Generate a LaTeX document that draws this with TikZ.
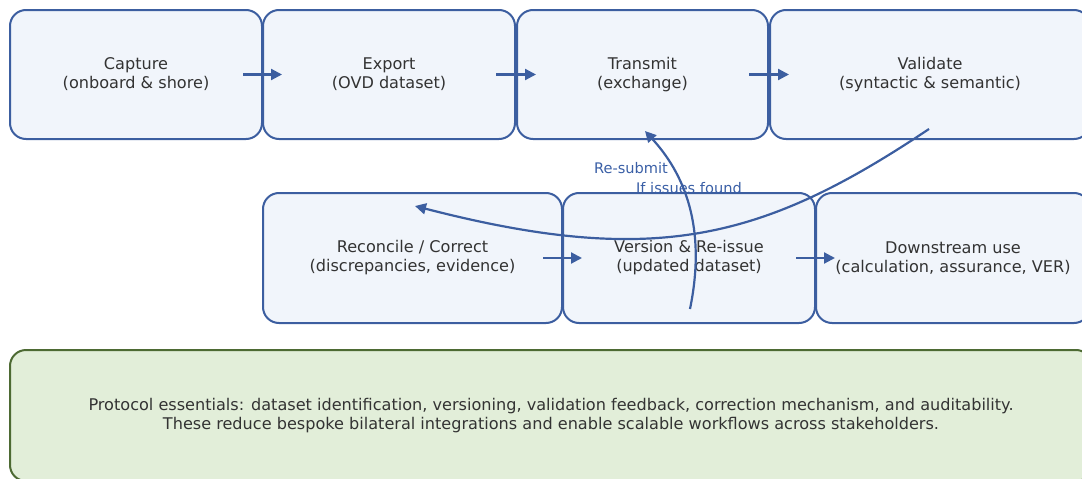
\documentclass[tikz,border=0pt]{standalone}
\usepackage{fontspec}
\setmainfont{DejaVu Sans}
\usetikzlibrary{arrows.meta}
\definecolor{boxfill}{HTML}{F1F5FB}
\definecolor{boxline}{HTML}{3C5EA0}
\definecolor{txt}{HTML}{333333}
\definecolor{lbl}{HTML}{3A5FA6}
\definecolor{notefill}{HTML}{E2EED9}
\definecolor{noteline}{HTML}{4D6A33}
\tikzset{
  stage/.style={draw=boxline, fill=boxfill, line width=2pt, rounded corners=16pt,
    text=txt, align=center, inner sep=0pt, font=\fontsize{16.1}{19}\selectfont},
  note/.style={draw=noteline, fill=notefill, line width=2pt, rounded corners=16pt,
    text=txt, align=center, inner sep=0pt, font=\fontsize{16.1}{19}\selectfont},
  flow/.style={draw=boxline, line width=2.2pt, -{Triangle[length=11pt,width=11pt]}},
  lab/.style={text=lbl, font=\fontsize{14.6}{17}\selectfont, inner sep=0pt}
}
\begin{document}
\begin{tikzpicture}[x=1pt,y=-1pt]
\useasboundingbox (0,0) rectangle (1082,479);
\clip (0,0) rectangle (1082,479);
% top row
\node[stage, minimum width=252pt, minimum height=129pt] (cap) at (136,74.5) {Capture\\(onboard \& shore)};
\node[stage, minimum width=252pt, minimum height=129pt] (exp) at (389,74.5) {Export\\(OVD dataset)};
\node[stage, minimum width=251pt, minimum height=129pt] (tra) at (642.5,74.5) {Transmit\\(exchange)};
\node[stage, minimum width=320pt, minimum height=129pt] (val) at (930,74.5) {Validate\\(syntactic \& semantic)};
% second row
\node[stage, minimum width=299pt, minimum height=130pt] (rec) at (412.5,258) {Reconcile / Correct\\(discrepancies, evidence)};
\node[stage, minimum width=252pt, minimum height=130pt] (ver) at (689,258) {Version \& Re-issue\\(updated dataset)};
\node[stage, minimum width=274pt, minimum height=130pt] (dow) at (953,258) {Downstream use\\(calculation, assurance, VER)};
% note
\node[note, minimum width=1082pt, minimum height=131pt] (bot) at (551,415.5) {Protocol essentials: dataset identification, versioning, validation feedback, correction mechanism, and auditability.\\These reduce bespoke bilateral integrations and enable scalable workflows across stakeholders.};
% straight arrows
\draw[flow] ([xshift=-20pt]cap.east) -- ([xshift=20pt]exp.west);
\draw[flow] ([xshift=-20pt]exp.east) -- ([xshift=20pt]tra.west);
\draw[flow] ([xshift=-20pt]tra.east) -- ([xshift=20pt]val.west);
\draw[flow] ([xshift=-20pt]rec.east) -- ([xshift=20pt]ver.west);
\draw[flow] ([xshift=-20pt]ver.east) -- ([xshift=20pt]dow.west);
% feedback curves
\coordinate (vs) at ([xshift=-1pt,yshift=11pt]val.south);
\coordinate (re) at ([xshift=2.5pt,yshift=-14pt]rec.north);
\draw[flow] (vs) .. controls (763,240) and (655,268) .. (re);
\coordinate (vb) at ([xshift=1pt,yshift=15pt]ver.south);
\coordinate (te) at ([xshift=2.5pt,yshift=9pt]tra.south);
\draw[flow] (vb) .. controls (705,236) and (690,180) .. (te);
% labels
\node[lab] (lresub) at (631,168) {Re-submit};
\node[lab] (lissue) at (689,188) {If issues found};
\end{tikzpicture}
\end{document}
